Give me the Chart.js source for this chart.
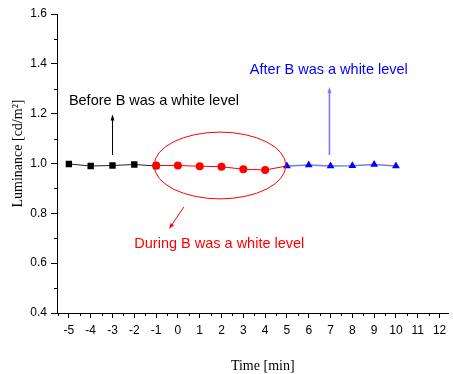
<!DOCTYPE html>
<html lang="en">
<head>
  <meta charset="UTF-8" />
  <title>Luminance vs Time</title>
  <style>
    body {
      margin: 0;
      padding: 0;
      background: #fff;
    }
    #chart {
      display: block;
    }
  </style>
</head>
<body>
  <canvas id="chart" width="453" height="374"></canvas>

  <script src="https://cdn.jsdelivr.net/npm/chart.js"></script>
  <script>
    // minutes
    const beforeTimes = [-5, -4, -3, -2, -1];
    const beforeValues = [0.998, 0.990, 0.992, 0.996, 0.990];

    const duringTimes = [-1, 0, 1, 2, 3, 4, 5];
    const duringValues = [0.992, 0.992, 0.989, 0.987, 0.977, 0.974, 0.990];

    const afterTimes = [5, 6, 7, 8, 9, 10];
    const afterValues = [0.990, 0.994, 0.990, 0.991, 0.996, 0.990];

    const xTickValues = [-5, -4, -3, -2, -1, 0, 1, 2, 3, 4, 5, 6, 7, 8, 9, 10, 11, 12];
    const yTickValues = [0.4, 0.6, 0.8, 1.0, 1.2, 1.4, 1.6];

    const toPoints = (xs, ys) => xs.map((x, i) => ({ x: x, y: ys[i] }));

    const sans = 'Arial, "Liberation Sans", sans-serif';
    const serif = '"Times New Roman", "Liberation Serif", serif';

    // annotations (data units)
    const notes = [
      { text: 'Before B was a white level', x: -5.0, y: 1.251, color: '#000000' },
      { text: 'After B was a white level', x: 3.3, y: 1.375, color: '#0000ff' },
      { text: 'During B was a white level', x: -2.0, y: 0.677, color: '#ff0000' }
    ];
    const arrows = [
      { from: [-3, 1.034], to: [-3, 1.197], color: '#000000', width: 1 },
      { from: [6.95, 1.034], to: [6.95, 1.307], color: '#7878ff', width: 1.6 },
      { from: [0.27, 0.825], to: [-0.41, 0.737], color: '#ff0000', width: 1 }
    ];
    const ellipse = { cx: 1.93, cy: 0.992, rx: 3.02, ry: 0.134, color: '#ff0000' };

    function drawArrow(ctx, x1, y1, x2, y2, color, width) {
      const ang = Math.atan2(y2 - y1, x2 - x1);
      const head = 6;
      ctx.save();
      ctx.strokeStyle = color;
      ctx.fillStyle = color;
      ctx.lineWidth = width;
      ctx.beginPath();
      ctx.moveTo(x1, y1);
      ctx.lineTo(x2 - Math.cos(ang) * head * 0.8, y2 - Math.sin(ang) * head * 0.8);
      ctx.stroke();
      ctx.beginPath();
      ctx.moveTo(x2, y2);
      ctx.lineTo(x2 - head * Math.cos(ang) + 2 * Math.sin(ang), y2 - head * Math.sin(ang) - 2 * Math.cos(ang));
      ctx.lineTo(x2 - head * Math.cos(ang) - 2 * Math.sin(ang), y2 - head * Math.sin(ang) + 2 * Math.cos(ang));
      ctx.closePath();
      ctx.fill();
      ctx.restore();
    }

    const decorPlugin = {
      id: 'decor',
      afterDraw(chart) {
        const ctx = chart.ctx;
        const xs = chart.scales.x;
        const ys = chart.scales.y;
        const area = chart.chartArea;

        // minor ticks
        ctx.save();
        ctx.strokeStyle = '#000';
        ctx.lineWidth = 1;
        ctx.beginPath();
        for (let v = -5.5; v <= 12.5; v += 1) {
          const px = Math.round(xs.getPixelForValue(v)) + 0.5;
          if (px < area.left || px > area.right) continue;
          ctx.moveTo(px, area.bottom);
          ctx.lineTo(px, area.bottom + 3);
        }
        for (let v = 0.5; v < 1.6; v += 0.2) {
          const py = Math.round(ys.getPixelForValue(v)) + 0.5;
          ctx.moveTo(area.left, py);
          ctx.lineTo(area.left - 3, py);
        }
        ctx.stroke();
        ctx.restore();

        // ellipse
        ctx.save();
        ctx.strokeStyle = ellipse.color;
        ctx.lineWidth = 1;
        const ecx = xs.getPixelForValue(ellipse.cx);
        const ecy = ys.getPixelForValue(ellipse.cy);
        const erx = xs.getPixelForValue(ellipse.cx + ellipse.rx) - ecx;
        const ery = ecy - ys.getPixelForValue(ellipse.cy + ellipse.ry);
        ctx.beginPath();
        ctx.ellipse(ecx, ecy, erx, ery, 0, 0, Math.PI * 2);
        ctx.stroke();
        ctx.restore();

        // arrows
        arrows.forEach((a) => {
          drawArrow(ctx,
            xs.getPixelForValue(a.from[0]), ys.getPixelForValue(a.from[1]),
            xs.getPixelForValue(a.to[0]), ys.getPixelForValue(a.to[1]),
            a.color, a.width);
        });

        // notes
        ctx.save();
        ctx.font = '14.5px ' + sans;
        ctx.textBaseline = 'middle';
        ctx.textAlign = 'left';
        notes.forEach((n) => {
          ctx.fillStyle = n.color;
          ctx.fillText(n.text, xs.getPixelForValue(n.x), ys.getPixelForValue(n.y));
        });
        ctx.restore();

        // axis titles
        ctx.save();
        ctx.fillStyle = '#000';
        ctx.font = '14px ' + serif;
        ctx.textAlign = 'center';
        ctx.textBaseline = 'middle';
        ctx.fillText('Time [min]', (area.left + area.right) / 2 + 10, 366);
        ctx.translate(18, (area.top + area.bottom) / 2 - 10);
        ctx.rotate(-Math.PI / 2);
        ctx.fillText('Luminance [cd/m\u00B2]', 0, 0);
        ctx.restore();
      }
    };

    const ctx = document.getElementById('chart').getContext('2d');

    new Chart(ctx, {
      type: 'scatter',
      data: {
        datasets: [
          {
            label: 'After',
            data: toPoints(afterTimes, afterValues),
            showLine: true,
            borderColor: '#7878ff',
            borderWidth: 1.6,
            backgroundColor: '#0000ff',
            pointBorderColor: '#0000ff',
            pointStyle: 'triangle',
            pointRadius: 4.5,
            pointBorderWidth: 0
          },
          {
            label: 'During',
            data: toPoints(duringTimes, duringValues),
            showLine: true,
            borderColor: '#ff0000',
            borderWidth: 1,
            backgroundColor: '#ff0000',
            pointBorderColor: '#ff0000',
            pointStyle: 'circle',
            // last point sits under the first triangle, no marker there
            pointRadius: (c) => (c.dataIndex === duringTimes.length - 1 ? 0 : 4),
            pointBorderWidth: 0
          },
          {
            label: 'Before',
            data: toPoints(beforeTimes, beforeValues),
            showLine: true,
            borderColor: '#222222',
            borderWidth: 1,
            backgroundColor: '#000000',
            pointBorderColor: '#000000',
            pointStyle: 'rect',
            pointRadius: 4.5,
            pointBorderWidth: 0
          }
        ]
      },
      options: {
        responsive: false,
        animation: false,
        devicePixelRatio: 1,
        layout: { padding: { top: 14, right: 1, left: 0, bottom: 0 } },
        plugins: {
          legend: { display: false },
          tooltip: { enabled: false }
        },
        scales: {
          x: {
            type: 'linear',
            min: -5.545,
            max: 12.41,
            afterFit: (scale) => { scale.height = 61; },
            afterBuildTicks: (scale) => {
              scale.ticks = xTickValues.map((v) => ({ value: v }));
            },
            ticks: {
              includeBounds: false,
              autoSkip: false,
              maxRotation: 0,
              padding: 5,
              color: '#000',
              font: { family: sans, size: 12 }
            },
            grid: {
              drawOnChartArea: false,
              drawTicks: true,
              tickLength: 5,
              tickColor: '#000'
            },
            border: { display: true, color: '#000', width: 1 }
          },
          y: {
            min: 0.4,
            max: 1.6,
            afterFit: (scale) => { scale.width = 57; },
            afterBuildTicks: (scale) => {
              scale.ticks = yTickValues.map((v) => ({ value: v }));
            },
            ticks: {
              padding: 4,
              color: '#000',
              font: { family: sans, size: 12 },
              callback: (v) => Number(v).toFixed(1)
            },
            grid: {
              drawOnChartArea: false,
              drawTicks: true,
              tickLength: 6,
              tickColor: '#000'
            },
            border: { display: true, color: '#000', width: 1 }
          }
        }
      },
      plugins: [decorPlugin]
    });
  </script>
</body>
</html>
